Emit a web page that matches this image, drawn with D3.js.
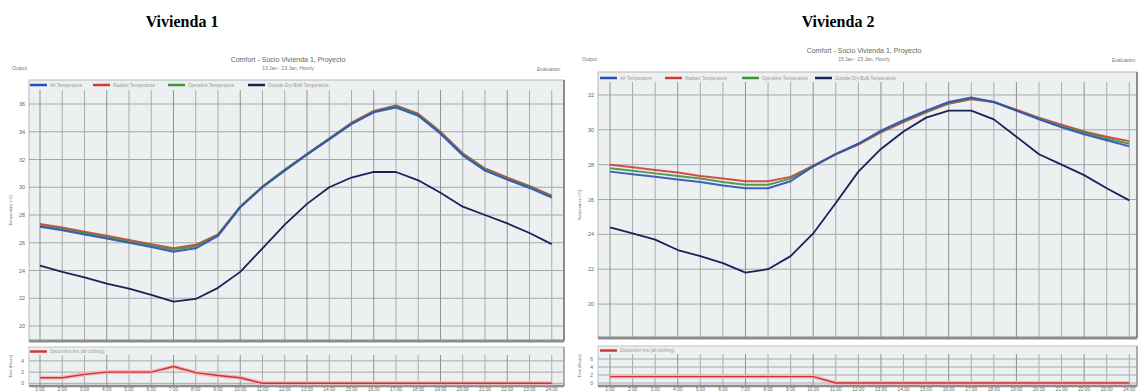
<!DOCTYPE html>
<html><head><meta charset="utf-8">
<script src="https://cdn.jsdelivr.net/npm/d3@7"></script>
<style>body{margin:0;background:#fff;}svg{display:block;}</style>
</head><body>
<svg id="chart" width="1140" height="392"></svg>
<script>
const hours = ["1:00","2:00","3:00","4:00","5:00","6:00","7:00","8:00","9:00","10:00","11:00","12:00","13:00","14:00","15:00","16:00","17:00","18:00","19:00","20:00","21:00","22:00","23:00","24:00"];
const seriesNames = ["Air Temperature","Radiant Temperature","Operative Temperature","Outside Dry-Bulb Temperature"];
const discomfortName = "Discomfort hrs (all clothing)";
const panelTitles = ["Vivienda 1","Vivienda 2"];
const chartTitles = ["Comfort - Socio Vivienda 1, Proyecto","Comfort - Socio Vivienda 1, Proyecto"];
const chartSubtitles = ["13 Jan - 23 Jan, Hourly","15 Jan - 25 Jan, Hourly"];
const tempTicks1 = [20,22,24,26,28,30,32,34,36];
const tempTicks2 = [20,22,24,26,28,30,32];
const hrsTicks1 = [0,2,4];
const hrsTicks2 = [0,2,4,6];

const v1Air       = [27.15,26.9,26.6,26.3,26.0,25.7,25.35,25.6,26.5,28.55,30.0,31.2,32.35,33.45,34.55,35.4,35.75,35.15,33.85,32.3,31.2,30.55,29.95,29.25];
const v1Radiant   = [27.35,27.1,26.8,26.5,26.2,25.9,25.6,25.85,26.6,28.6,30.05,31.25,32.4,33.5,34.65,35.5,35.9,35.3,34.0,32.45,31.35,30.7,30.1,29.4];
const v1Operative = [27.25,27.0,26.7,26.4,26.1,25.8,25.5,25.75,26.55,28.6,30.05,31.25,32.4,33.5,34.6,35.45,35.85,35.25,33.95,32.4,31.3,30.6,30.05,29.35];
const v1Outdoor   = [24.35,23.9,23.5,23.05,22.7,22.25,21.75,21.95,22.75,23.9,25.6,27.3,28.8,30.0,30.7,31.1,31.1,30.5,29.6,28.6,28.0,27.4,26.7,25.9];
const v1Discomfort= [1,1,1.6,2,2,2,3,1.9,1.4,1,0,0,0,0,0,0,0,0,0,0,0,0,0,0];

const v2Air       = [27.6,27.45,27.3,27.15,27.0,26.8,26.65,26.65,27.05,27.9,28.6,29.2,29.95,30.55,31.1,31.6,31.85,31.6,31.1,30.6,30.15,29.75,29.4,29.05];
const v2Radiant   = [28.0,27.85,27.7,27.55,27.35,27.2,27.05,27.05,27.3,27.95,28.6,29.15,29.85,30.45,31.0,31.5,31.75,31.6,31.15,30.7,30.3,29.9,29.6,29.35];
const v2Operative = [27.8,27.65,27.5,27.35,27.2,27.0,26.85,26.85,27.2,27.9,28.6,29.2,29.9,30.5,31.05,31.55,31.8,31.6,31.1,30.65,30.2,29.85,29.5,29.2];
const v2Outdoor   = [24.4,24.05,23.7,23.1,22.75,22.35,21.8,22.0,22.75,24.05,25.8,27.6,28.9,29.9,30.7,31.1,31.1,30.6,29.6,28.6,28.0,27.4,26.65,25.95];
const v2Discomfort= [1.6,1.6,1.6,1.6,1.6,1.6,1.6,1.6,1.6,1.6,0,0,0,0,0,0,0,0,0,0,0,0,0,0];

const colors = ["#2f4fb8","#d23a3a","#3f923f","#1d2058"];
const svg = d3.select("#chart");
const FONT = "Liberation Sans, Arial, sans-serif";

function drawPanel(p) {
  const g = svg.append("g");
  g.append("text").attr("x", p.headerX).attr("y", 27).attr("text-anchor","middle")
    .attr("font-family","Liberation Serif, Times New Roman, serif").attr("font-weight","bold")
    .attr("font-size",16).attr("fill","#000").text(p.header);
  g.append("text").attr("x", p.titleX).attr("y", p.titleY).attr("text-anchor","middle")
    .attr("font-family",FONT).attr("font-size",7).attr("fill","#666").text(p.title);
  g.append("text").attr("x", p.titleX).attr("y", p.titleY+7.5).attr("text-anchor","middle")
    .attr("font-family",FONT).attr("font-size",5).attr("fill","#777").text(p.subtitle);
  g.append("text").attr("x", p.outX).attr("y", p.outY).attr("font-family",FONT).attr("font-size",5).attr("fill","#777").text("Output");
  g.append("text").attr("x", p.evalX).attr("y", p.outY+1).attr("font-family",FONT).attr("font-size",5).attr("fill","#777").text("Evaluation");

  const x = d3.scaleLinear().domain([1,24]).range([p.x0, p.x1]);
  const xIdx = i => x(i+1);

  const y = d3.scaleLinear().domain(p.yDomain).range([p.mainBottom, p.mainTop]);
  g.append("rect").attr("x",p.left).attr("y",p.mainTop).attr("width",p.right-p.left).attr("height",p.mainBottom-p.mainTop)
    .attr("fill","#edf0f0").attr("stroke","#b5b8b8").attr("stroke-width",1);
  const gm = g.append("g");
  gm.selectAll("line.h").data(p.yTicks).join("line")
    .attr("x1",p.left).attr("x2",p.right).attr("y1",d=>y(d)).attr("y2",d=>y(d))
    .attr("stroke","#a4a8a8").attr("stroke-width",1);
  gm.selectAll("line.v").data(hours).join("line")
    .attr("x1",(d,i)=>xIdx(i)).attr("x2",(d,i)=>xIdx(i)).attr("y1",p.mainTop+10).attr("y2",p.mainBottom)
    .attr("stroke",(d,i)=> i%3===0 ? "#8e9292" : "#a8acac").attr("stroke-width",1);
  g.append("line").attr("x1",p.left).attr("x2",p.right).attr("y1",p.mainBottom).attr("y2",p.mainBottom).attr("stroke","#8a8d8d").attr("stroke-width",3);
  g.append("line").attr("x1",p.right).attr("x2",p.right).attr("y1",p.mainTop).attr("y2",p.mainBottom).attr("stroke","#8a8d8d").attr("stroke-width",2);
  gm.selectAll("text.yl").data(p.yTicks).join("text")
    .attr("x",p.left-4).attr("y",d=>y(d)+2).attr("text-anchor","end")
    .attr("font-family",FONT).attr("font-size",5.5).attr("fill","#666").text(d=>d);
  g.append("text").attr("transform",`translate(${p.left-17},${(p.mainTop+p.mainBottom)/2}) rotate(-90)`)
    .attr("text-anchor","middle").attr("font-family",FONT).attr("font-size",4).attr("fill","#666").text("Temperature (°C)");
  const lg = g.append("g");
  seriesNames.forEach((n,k)=>{
    lg.append("line").attr("x1",p.legX[k]).attr("x2",p.legX[k]+17).attr("y1",p.legY).attr("y2",p.legY)
      .attr("stroke",colors[k]).attr("stroke-width",2.5);
    lg.append("text").attr("x",p.legX[k]+20).attr("y",p.legY+1.7).attr("font-family",FONT).attr("font-size",4.5)
      .attr("fill","#999").text(n);
  });
  const line = d3.line().x((d,i)=>xIdx(i)).y(d=>y(d));
  const order = [3,1,2,0];
  order.forEach(k=>{
    g.append("path").datum(p.series[k]).attr("d",line).attr("fill","none")
      .attr("stroke",colors[k]).attr("stroke-width",k===3?1.8:2).attr("stroke-linejoin","round")
      .attr("stroke-opacity", k===3?1:0.9);
  });

  const ys = d3.scaleLinear().domain(p.hDomain).range([p.subBottom, p.subTop]);
  g.append("rect").attr("x",p.left).attr("y",p.subTop).attr("width",p.right-p.left).attr("height",p.subBottom-p.subTop)
    .attr("fill","#edf0f0").attr("stroke","#c0c3c3").attr("stroke-width",1);
  const gs = g.append("g");
  gs.selectAll("line.h").data(p.hTicks).join("line")
    .attr("x1",p.left).attr("x2",p.right).attr("y1",d=>ys(d)).attr("y2",d=>ys(d))
    .attr("stroke","#a4a8a8").attr("stroke-width",1);
  gs.selectAll("line.v").data(hours).join("line")
    .attr("x1",(d,i)=>xIdx(i)).attr("x2",(d,i)=>xIdx(i)).attr("y1",p.subTop+8).attr("y2",p.subBottom)
    .attr("stroke",(d,i)=> i%3===0 ? "#8e9292" : "#a8acac").attr("stroke-width",1);
  g.append("line").attr("x1",p.left).attr("x2",p.right).attr("y1",p.subBottom).attr("y2",p.subBottom).attr("stroke","#8a8d8d").attr("stroke-width",2.5);
  g.append("line").attr("x1",p.right).attr("x2",p.right).attr("y1",p.subTop).attr("y2",p.subBottom).attr("stroke","#9a9d9d").attr("stroke-width",1.5);
  gs.selectAll("text.yl").data(p.hTicks).join("text")
    .attr("x",p.left-5).attr("y",d=>ys(d)+2).attr("text-anchor","end")
    .attr("font-family",FONT).attr("font-size",5).attr("fill","#666").text(d=>d);
  g.append("text").attr("transform",`translate(${p.left-17},${(p.subTop+p.subBottom)/2}) rotate(-90)`)
    .attr("text-anchor","middle").attr("font-family",FONT).attr("font-size",4).attr("fill","#555").text("Time (Hours)");
  g.append("line").attr("x1",p.legX[0]).attr("x2",p.legX[0]+17).attr("y1",p.subTop+4.5).attr("y2",p.subTop+4.5)
    .attr("stroke","#d23a3a").attr("stroke-width",2.5);
  g.append("text").attr("x",p.legX[0]+20).attr("y",p.subTop+6.2).attr("font-family",FONT).attr("font-size",4.5)
    .attr("fill","#999").text(discomfortName);
  const hline = d3.line().x((d,i)=>xIdx(i)).y(d=>ys(d));
  g.append("path").datum(p.discomfort).attr("d",hline).attr("fill","none")
    .attr("stroke","#f2b8b8").attr("stroke-width",4).attr("stroke-linejoin","round");
  g.append("path").datum(p.discomfort).attr("d",hline).attr("fill","none")
    .attr("stroke","#cc3333").attr("stroke-width",1.4).attr("stroke-linejoin","round");
  g.selectAll("text.xl").data(hours).join("text")
    .attr("x",(d,i)=>xIdx(i)).attr("y",390.5).attr("text-anchor","middle")
    .attr("font-family",FONT).attr("font-size",4.8).attr("fill","#666").text(d=>d);
}

drawPanel({
  header: panelTitles[0], headerX: 182,
  title: chartTitles[0], subtitle: chartSubtitles[0], titleX: 288, titleY: 62,
  outX: 12, outY: 70, evalX: 537,
  left: 29, right: 564, x0: 40, x1: 551.75,
  mainTop: 80, mainBottom: 341, yDomain: [20 - 15/13.875, 36 + 24/13.875], yTicks: tempTicks1,
  subTop: 347, subBottom: 386, hDomain: [0 - 2.7/5.6, 0 + 36.3/5.6], hTicks: hrsTicks1,
  legX: [30, 93, 168, 248], legY: 85,
  series: [v1Air, v1Radiant, v1Operative, v1Outdoor], discomfort: v1Discomfort
});
drawPanel({
  header: panelTitles[1], headerX: 838,
  title: chartTitles[1], subtitle: chartSubtitles[1], titleX: 864, titleY: 53,
  outX: 582, outY: 61, evalX: 1112,
  left: 598, right: 1137, x0: 610, x1: 1129.3,
  mainTop: 72, mainBottom: 338, yDomain: [20 - 34/17.44, 32 + 23/17.44], yTicks: tempTicks2,
  subTop: 346, subBottom: 386, hDomain: [0 - 3/4, 0 + 37/4], hTicks: hrsTicks2,
  legX: [600, 665, 742, 815], legY: 78,
  series: [v2Air, v2Radiant, v2Operative, v2Outdoor], discomfort: v2Discomfort
});
</script>
</body></html>
